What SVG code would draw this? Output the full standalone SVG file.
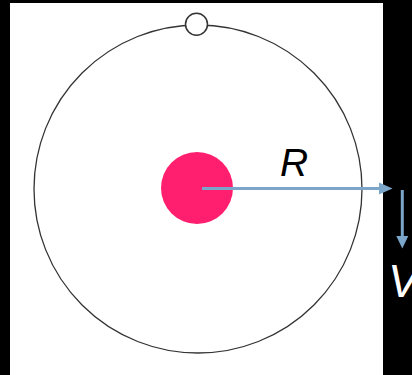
<svg xmlns="http://www.w3.org/2000/svg" width="412" height="375" viewBox="0 0 412 375">
  <style>
    .orbit { fill: none; stroke: #333; stroke-width: 1.3; }
    .arrow { stroke: #7BA6C9; stroke-width: 3; fill: none; }
    .head { fill: #7BA6C9; }
    .lbl { font-family: "Liberation Sans", Arial, sans-serif; font-style: italic; }
  </style>
  <rect x="0" y="0" width="412" height="375" fill="#000"/>
  <rect x="10" y="3" width="373" height="372" fill="#fff"/>
  <g id="orbit">
    <circle class="orbit" cx="198" cy="189" r="164"/>
  </g>
  <g id="electron">
    <circle cx="196.5" cy="24.3" r="11" fill="#fff" stroke="#333" stroke-width="1.5"/>
  </g>
  <g id="nucleus">
    <circle cx="197" cy="188" r="36" fill="#FF1F6E"/>
  </g>
  <g id="connectors">
    <line class="arrow" x1="202" y1="188.5" x2="381" y2="188.5"/>
    <polygon class="head" points="379,182.5 392.5,188.5 379,194.5"/>
    <line class="arrow" x1="402.3" y1="190" x2="402.3" y2="238"/>
    <polygon class="head" points="396.3,236 408.3,236 402.3,248.5"/>
  </g>
  <g id="label-R">
    <text class="lbl" x="280" y="176" font-size="39" fill="#000">R</text>
  </g>
  <g id="label-V">
    <text class="lbl" x="388" y="297" font-size="46" fill="#fff">V</text>
  </g>
</svg>
